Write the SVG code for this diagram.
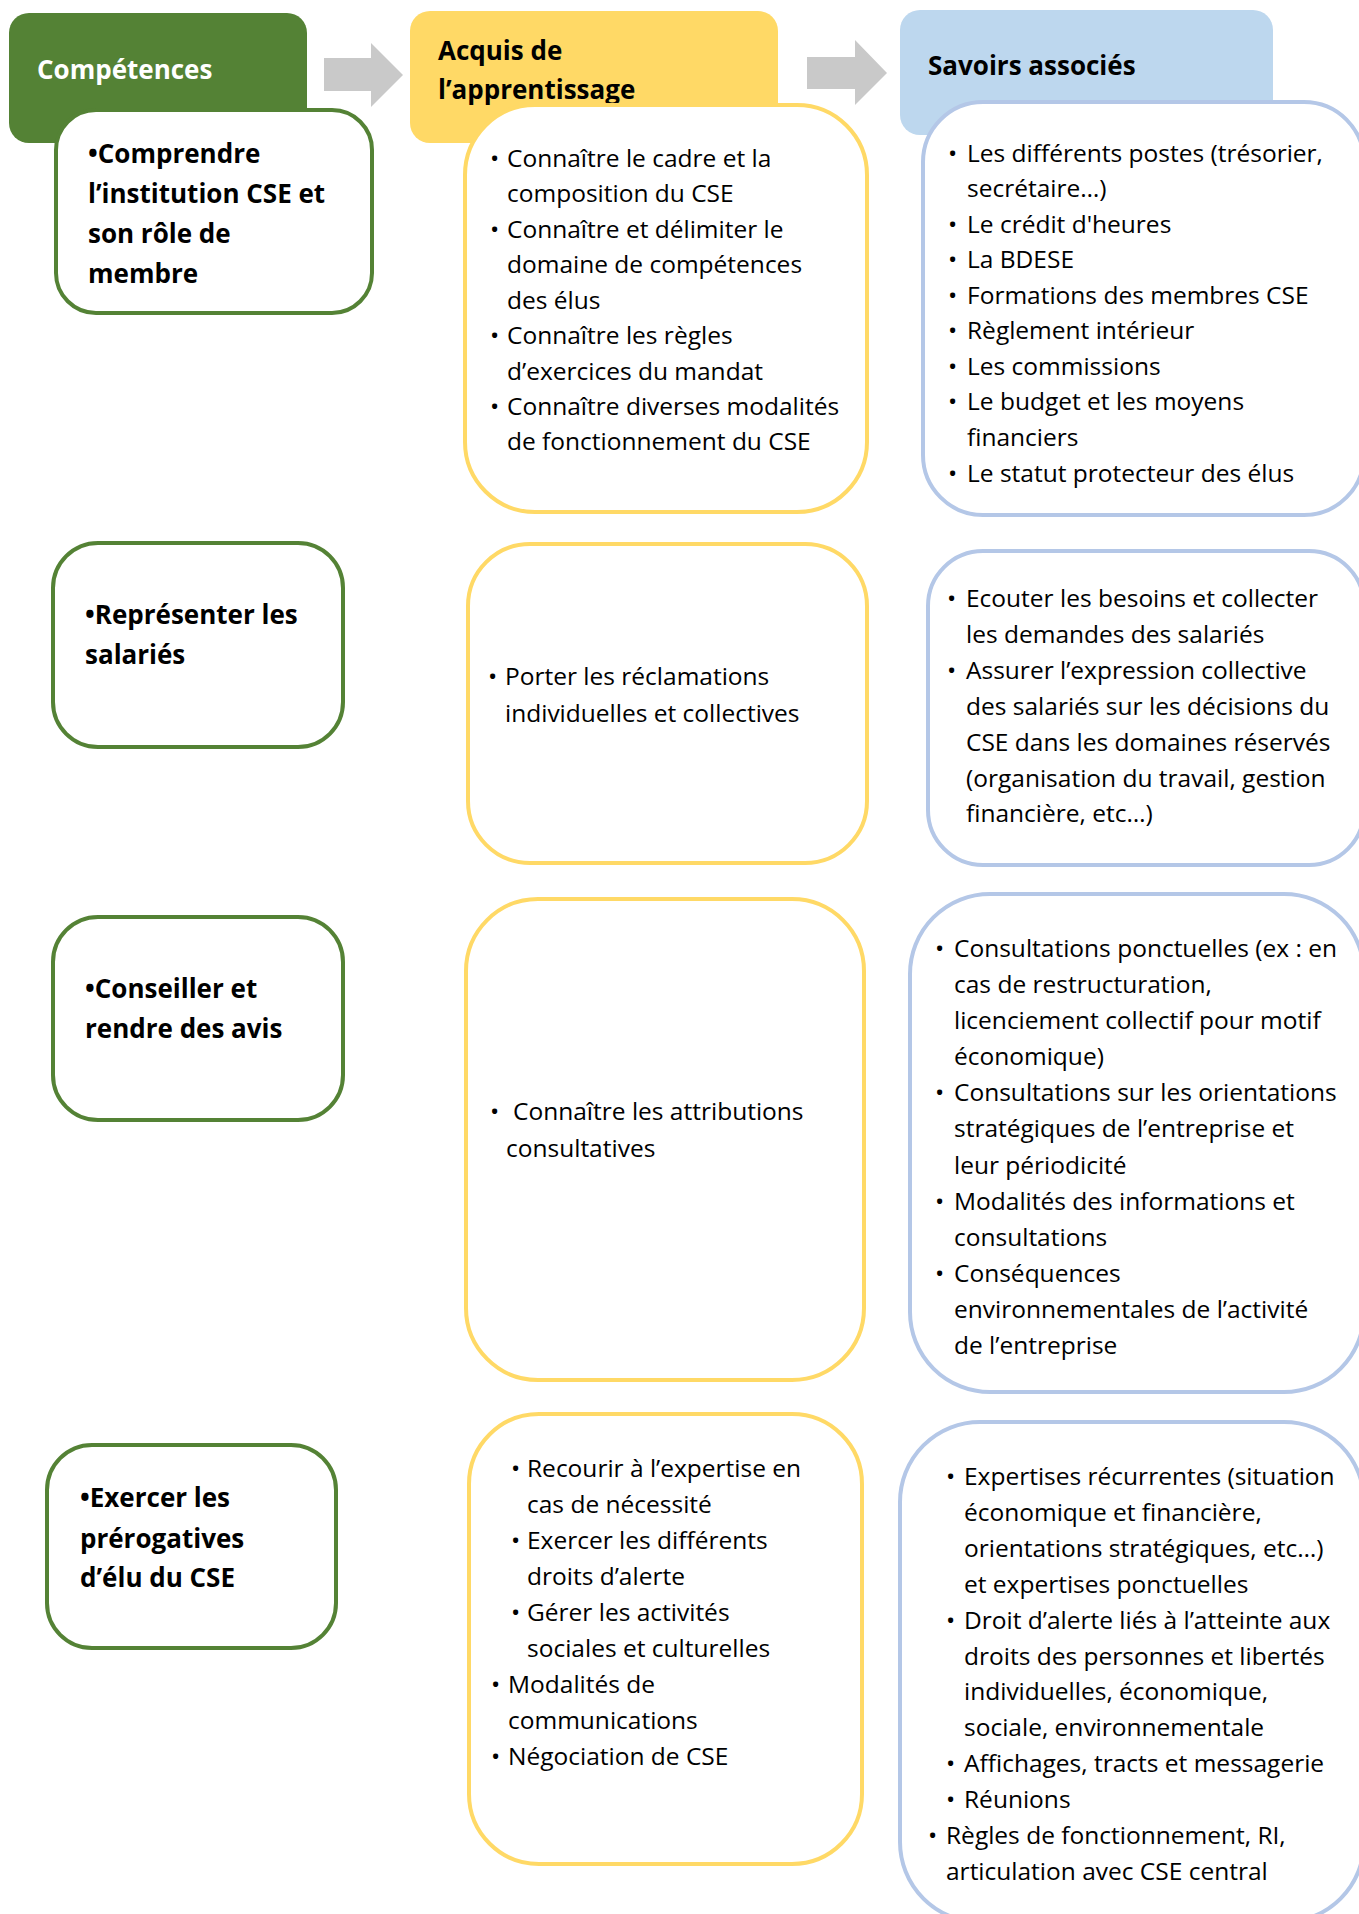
<svg xmlns="http://www.w3.org/2000/svg" width="1359" height="1914" viewBox="0 0 1359 1914">
<style>
text{font-family:'Open Sans','Noto Sans','Liberation Sans',sans-serif;fill:#000}
.h{font-weight:700;font-size:26px}
.hw{font-weight:700;font-size:26px;fill:#fff}
.b{font-weight:700;font-size:26px}
.t{font-size:24.5px}
.g{fill:#fff;stroke:#548235;stroke-width:4}
.y{fill:#fff;stroke:#FFD966;stroke-width:4}
.bl{fill:#fff;stroke:#B4C7E7;stroke-width:4}
.arr{fill:#C9C9C9}
</style>
<rect width="1359" height="1914" fill="#fff"/>
<g id="connectors">
<polygon class="arr" points="324,58 371,58 371,43 403,75 371,107 371,91 324,91"/>
<polygon class="arr" points="807,57 855,57 855,40 887,73 855,105 855,89 807,89"/>
</g>
<g id="header-competences">
<rect x="9" y="13" width="298" height="130" rx="20" fill="#548235"/>
<text class="hw" x="37" y="79">Compétences</text>
</g>
<g id="header-acquis">
<rect x="410" y="11" width="368" height="132" rx="20" fill="#FFD966"/>
<text class="h" x="438" y="60">Acquis de</text>
<text class="h" x="438" y="99">l’apprentissage</text>
</g>
<g id="header-savoirs">
<rect x="900" y="10" width="373" height="125" rx="20" fill="#BDD7EE"/>
<text class="h" x="928" y="75">Savoirs associés</text>
</g>
<g id="comp-1">
<rect class="g" x="56" y="110" width="316" height="203" rx="40"/>
<text class="b" x="88" y="163">•Comprendre</text>
<text class="b" x="88" y="203">l’institution CSE et</text>
<text class="b" x="88" y="243">son rôle de</text>
<text class="b" x="88" y="283">membre</text>
</g>
<g id="acquis-1">
<rect class="y" x="465" y="105" width="402" height="407" rx="70"/>
<text class="t"><tspan x="490" y="167">•</tspan><tspan x="507">Connaître le cadre et la</tspan></text>
<text class="t" x="507" y="202">composition du CSE</text>
<text class="t"><tspan x="490" y="238">•</tspan><tspan x="507">Connaître et délimiter le</tspan></text>
<text class="t" x="507" y="273">domaine de compétences</text>
<text class="t" x="507" y="309">des élus</text>
<text class="t"><tspan x="490" y="344">•</tspan><tspan x="507">Connaître les règles</tspan></text>
<text class="t" x="507" y="380">d’exercices du mandat</text>
<text class="t"><tspan x="490" y="415">•</tspan><tspan x="507">Connaître diverses modalités</tspan></text>
<text class="t" x="507" y="450">de fonctionnement du CSE</text>
</g>
<g id="savoirs-1">
<rect class="bl" x="923" y="102" width="441" height="413" rx="60"/>
<text class="t"><tspan x="948" y="162">•</tspan><tspan x="967">Les différents postes (trésorier,</tspan></text>
<text class="t" x="967" y="197">secrétaire…)</text>
<text class="t"><tspan x="948" y="233">•</tspan><tspan x="967">Le crédit d'heures</tspan></text>
<text class="t"><tspan x="948" y="268">•</tspan><tspan x="967">La BDESE</tspan></text>
<text class="t"><tspan x="948" y="304">•</tspan><tspan x="967">Formations des membres CSE</tspan></text>
<text class="t"><tspan x="948" y="339">•</tspan><tspan x="967">Règlement intérieur</tspan></text>
<text class="t"><tspan x="948" y="375">•</tspan><tspan x="967">Les commissions</tspan></text>
<text class="t"><tspan x="948" y="410">•</tspan><tspan x="967">Le budget et les moyens</tspan></text>
<text class="t" x="967" y="446">financiers</text>
<text class="t"><tspan x="948" y="482">•</tspan><tspan x="967">Le statut protecteur des élus</tspan></text>
</g>
<g id="comp-2">
<rect class="g" x="53" y="543" width="290" height="204" rx="45"/>
<text class="b" x="85" y="624">•Représenter les</text>
<text class="b" x="85" y="664">salariés</text>
</g>
<g id="acquis-2">
<rect class="y" x="468" y="544" width="399" height="319" rx="62"/>
<text class="t"><tspan x="488" y="685">•</tspan><tspan x="505">Porter les réclamations</tspan></text>
<text class="t" x="505" y="722">individuelles et collectives</text>
</g>
<g id="savoirs-2">
<rect class="bl" x="928" y="551" width="436" height="314" rx="55"/>
<text class="t"><tspan x="947" y="607">•</tspan><tspan x="966">Ecouter les besoins et collecter</tspan></text>
<text class="t" x="966" y="643">les demandes des salariés</text>
<text class="t"><tspan x="947" y="679">•</tspan><tspan x="966">Assurer l’expression collective</tspan></text>
<text class="t" x="966" y="715">des salariés sur les décisions du</text>
<text class="t" x="966" y="751">CSE dans les domaines réservés</text>
<text class="t" x="966" y="787">(organisation du travail, gestion</text>
<text class="t" x="966" y="822">financière, etc…)</text>
</g>
<g id="comp-3">
<rect class="g" x="53" y="917" width="290" height="203" rx="45"/>
<text class="b" x="85" y="998">•Conseiller et</text>
<text class="b" x="85" y="1038">rendre des avis</text>
</g>
<g id="acquis-3">
<rect class="y" x="466" y="899" width="398" height="481" rx="72"/>
<text class="t"><tspan x="490" y="1120">•</tspan><tspan x="513">Connaître les attributions</tspan></text>
<text class="t" x="506" y="1157">consultatives</text>
</g>
<g id="savoirs-3">
<rect class="bl" x="910" y="894" width="454" height="498" rx="80"/>
<text class="t"><tspan x="935" y="957">•</tspan><tspan x="954">Consultations ponctuelles (ex : en</tspan></text>
<text class="t" x="954" y="993">cas de restructuration,</text>
<text class="t" x="954" y="1029">licenciement collectif pour motif</text>
<text class="t" x="954" y="1065">économique)</text>
<text class="t"><tspan x="935" y="1101">•</tspan><tspan x="954">Consultations sur les orientations</tspan></text>
<text class="t" x="954" y="1137">stratégiques de l’entreprise et</text>
<text class="t" x="954" y="1174">leur périodicité</text>
<text class="t"><tspan x="935" y="1210">•</tspan><tspan x="954">Modalités des informations et</tspan></text>
<text class="t" x="954" y="1246">consultations</text>
<text class="t"><tspan x="935" y="1282">•</tspan><tspan x="954">Conséquences</tspan></text>
<text class="t" x="954" y="1318">environnementales de l’activité</text>
<text class="t" x="954" y="1354">de l’entreprise</text>
</g>
<g id="comp-4">
<rect class="g" x="47" y="1445" width="289" height="203" rx="45"/>
<text class="b" x="80" y="1507">•Exercer les</text>
<text class="b" x="80" y="1548">prérogatives</text>
<text class="b" x="80" y="1587">d’élu du CSE</text>
</g>
<g id="acquis-4">
<rect class="y" x="469" y="1414" width="393" height="450" rx="70"/>
<text class="t"><tspan x="511" y="1477">•</tspan><tspan x="527">Recourir à l’expertise en</tspan></text>
<text class="t" x="527" y="1513">cas de nécessité</text>
<text class="t"><tspan x="511" y="1549">•</tspan><tspan x="527">Exercer les différents</tspan></text>
<text class="t" x="527" y="1585">droits d’alerte</text>
<text class="t"><tspan x="511" y="1621">•</tspan><tspan x="527">Gérer les activités</tspan></text>
<text class="t" x="527" y="1657">sociales et culturelles</text>
<text class="t"><tspan x="491" y="1693">•</tspan><tspan x="508">Modalités de</tspan></text>
<text class="t" x="508" y="1729">communications</text>
<text class="t"><tspan x="491" y="1765">•</tspan><tspan x="508">Négociation de CSE</tspan></text>
</g>
<g id="savoirs-4">
<rect class="bl" x="900" y="1422" width="464" height="500" rx="80"/>
<text class="t"><tspan x="946" y="1485">•</tspan><tspan x="964">Expertises récurrentes (situation</tspan></text>
<text class="t" x="964" y="1521">économique et financière,</text>
<text class="t" x="964" y="1557">orientations stratégiques, etc…)</text>
<text class="t" x="964" y="1593">et expertises ponctuelles</text>
<text class="t"><tspan x="946" y="1629">•</tspan><tspan x="964">Droit d’alerte liés à l’atteinte aux</tspan></text>
<text class="t" x="964" y="1665">droits des personnes et libertés</text>
<text class="t" x="964" y="1700">individuelles, économique,</text>
<text class="t" x="964" y="1736">sociale, environnementale</text>
<text class="t"><tspan x="946" y="1772">•</tspan><tspan x="964">Affichages, tracts et messagerie</tspan></text>
<text class="t"><tspan x="946" y="1808">•</tspan><tspan x="964">Réunions</tspan></text>
<text class="t"><tspan x="928" y="1844">•</tspan><tspan x="946">Règles de fonctionnement, RI,</tspan></text>
<text class="t" x="946" y="1880">articulation avec CSE central</text>
</g>
</svg>
